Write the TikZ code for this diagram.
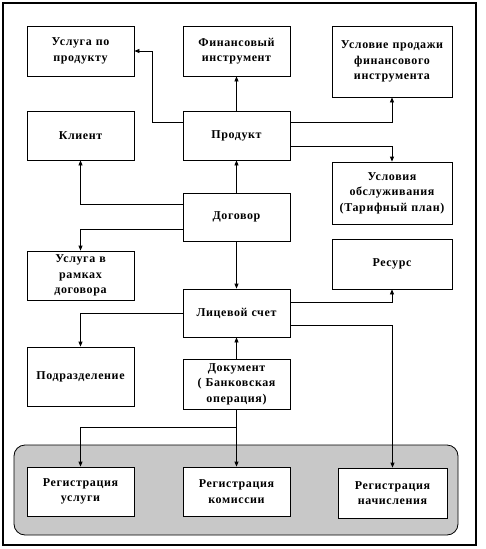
\documentclass[tikz,border=0pt]{standalone}
\usepackage{fontspec}
\setmainfont{Liberation Serif}[LetterSpace=5]
\usetikzlibrary{arrows.meta}
\begin{document}
\begin{tikzpicture}[x=1pt,y=-1pt,
  box/.style={draw, fill=white, line width=0.8pt, inner sep=0pt, align=center,
    font=\bfseries\fontsize{12}{15.5}\selectfont},
  narrow/.style={box, minimum width=107pt, text width=103pt},
  wide/.style={box, minimum width=120pt, text width=116pt},
  arr/.style={line width=0.8pt, -{Triangle[length=5pt,width=4pt]}},
  ln/.style={line width=0.8pt}]
\useasboundingbox (0,0) rectangle (485,549);
\draw[line width=1.5pt] (3,3) rectangle (476,545);
\draw[line width=0.8pt, fill={rgb,255:red,200;green,200;blue,200}, rounded corners=11pt] (14,445) rectangle (458,535);

\node[narrow, minimum height=50pt] (uslprod) at (80.5,51) {Услуга по\\продукту};
\node[narrow, minimum height=50pt] (fin) at (236.5,51) {Финансовый\\инструмент};
\node[wide, minimum height=71pt] (uslsale) at (392,61.5) {Условие продажи\\финансового\\инструмента};
\node[narrow, minimum height=49pt] (client) at (80.5,135.5) {Клиент};
\node[narrow, minimum height=49pt] (prod) at (236.5,135.5) {Продукт};
\node[wide, minimum height=62pt] (obsl) at (392,193) {Условия\\обслуживания\\(Тарифный план)};
\node[narrow, minimum height=48pt] (dog) at (236.5,217) {Договор};
\node[narrow, minimum height=49pt] (uslr) at (80.5,275.5) {Услуга в\\рамках\\договора};
\node[wide, minimum height=50pt] (res) at (392,264) {Ресурс};
\node[narrow, minimum height=48pt] (lic) at (236.5,313) {Лицевой счет};
\node[narrow, minimum height=59pt] (podr) at (80.5,376.5) {Подразделение};
\node[narrow, minimum height=50pt] (doc) at (236.5,384) {Документ\\( Банковская\\операция)};
\node[narrow, minimum height=49pt] (regusl) at (80.5,491.5) {Регистрация\\услуги};
\node[narrow, minimum height=49pt] (regkom) at (236.5,491.5) {Регистрация\\комиссии};
\node[box, minimum width=109pt, text width=105pt, minimum height=50pt] (regnach) at (392.5,493) {Регистрация\\начисления};

\draw[arr] ([yshift=13.5pt]prod.west) -- ++(-30,0) |- (uslprod.east);
\draw[arr] (prod.north) -- (fin.south);
\draw[arr] ([yshift=13.5pt]prod.east) -| (uslsale.south);
\draw[arr] ([yshift=-10.5pt]prod.east) -| (obsl.north);
\draw[arr] (dog.north) -- (prod.south);
\draw[arr] ([yshift=13pt]dog.west) -| (client.south);
\draw[arr] ([yshift=-12pt]dog.west) -| (uslr.north);
\draw[arr] (dog.south) -- (lic.north);
\draw[arr] ([yshift=11pt]lic.east) -| (res.south);
\draw[arr] (lic.west) -| (podr.north);
\draw[arr] ([yshift=-12pt]lic.east) -| (regnach.north);
\draw[arr] (doc.north) -- (lic.south);
\draw[arr] (doc.south) -- (regkom.north);
\path (doc.south) ++(0,18) coordinate (j);
\draw[arr] (j) -| (regusl.north);
\end{tikzpicture}
\end{document}
